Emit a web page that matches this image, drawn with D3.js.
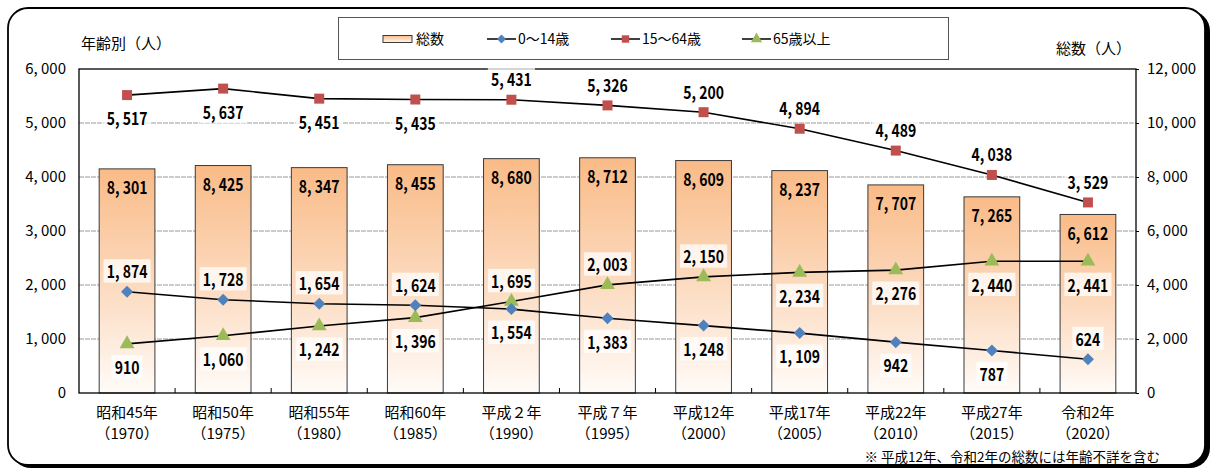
<!DOCTYPE html>
<html>
<head>
<meta charset="utf-8">
<script src="https://cdn.jsdelivr.net/npm/d3@7"></script>
<style>
  html, body { margin: 0; padding: 0; background: #fff; }
  svg { display: block; }
  text { font-family: "Noto Sans CJK JP", "Noto Sans", sans-serif; fill: #000; }
</style>
</head>
<body>
<svg id="chart" width="1214" height="470"></svg>
<script>
// Census years: era labels and Western year
const eraLabels = ["昭和45年", "昭和50年", "昭和55年", "昭和60年", "平成２年", "平成７年", "平成12年", "平成17年", "平成22年", "平成27年", "令和2年"];
const yearLabels = ["（1970）", "（1975）", "（1980）", "（1985）", "（1990）", "（1995）", "（2000）", "（2005）", "（2010）", "（2015）", "（2020）"];

// Population (people)
const total    = [8301, 8425, 8347, 8455, 8680, 8712, 8609, 8237, 7707, 7265, 6612];
const age0_14  = [1874, 1728, 1654, 1624, 1554, 1383, 1248, 1109, 942, 787, 624];
const age15_64 = [5517, 5637, 5451, 5435, 5431, 5326, 5200, 4894, 4489, 4038, 3529];
const age65    = [910, 1060, 1242, 1396, 1695, 2003, 2150, 2234, 2276, 2440, 2441];

// Which side of each point its value label sits on
const side0_14  = ["up", "up", "up", "up", "down", "down", "down", "down", "down", "down", "up"];
const side15_64 = ["down", "down", "down", "down", "up", "up", "up", "up", "up", "up", "up"];
const side65    = ["down", "down", "down", "down", "up", "up", "up", "down", "down", "down", "down"];

// Axis ticks
const leftTicks  = [0, 1000, 2000, 3000, 4000, 5000, 6000];
const rightTicks = [0, 2000, 4000, 6000, 8000, 10000, 12000];

const svg = d3.select("#chart");
const defs = svg.append("defs");

const fmt = v => d3.format(",")(v).replace(/,/g, ", ");

// Outer rounded frame with a drop shadow on the lower right
svg.append("rect").attr("x", 11).attr("y", 11).attr("width", 1199).attr("height", 457)
  .attr("rx", 20).attr("fill", "#000");
svg.append("rect").attr("x", 8).attr("y", 8).attr("width", 1197).attr("height", 457)
  .attr("rx", 20).attr("fill", "#fff").attr("stroke", "#000").attr("stroke-width", 1.8);

const plot = { left: 79, right: 1136, top: 69, bottom: 393 };

const x = d3.scaleBand().domain(eraLabels).range([plot.left, plot.right]).paddingInner(0.42).paddingOuter(0.21);
const xc = d => x(d) + x.bandwidth() / 2;
const yL = d3.scaleLinear().domain([0, 6000]).range([plot.bottom, plot.top]);
const yR = d3.scaleLinear().domain([0, 12000]).range([plot.bottom, plot.top]);

// Bar gradient
const grad = defs.append("linearGradient").attr("id", "barGrad")
  .attr("x1", 0).attr("y1", 0).attr("x2", 0).attr("y2", 1);
grad.append("stop").attr("offset", "0%").attr("stop-color", "#f9bb87");
grad.append("stop").attr("offset", "55%").attr("stop-color", "#fcdcc2");
grad.append("stop").attr("offset", "100%").attr("stop-color", "#fffbf8");

// Horizontal gridlines
svg.append("g")
  .selectAll("line").data(leftTicks.filter(t => t > 0 && t < 6000)).join("line")
  .attr("x1", plot.left).attr("x2", plot.right)
  .attr("y1", d => yL(d)).attr("y2", d => yL(d))
  .attr("stroke", "#9a9a9a").attr("stroke-width", 1).attr("stroke-dasharray", "5,1");

// Bars: total population on the right axis
svg.append("g").selectAll("rect").data(total).join("rect")
  .attr("x", (d, i) => x(eraLabels[i]))
  .attr("width", x.bandwidth())
  .attr("y", d => yR(d))
  .attr("height", d => plot.bottom - yR(d))
  .attr("fill", "url(#barGrad)")
  .attr("stroke", "#3a3a3a").attr("stroke-width", 1);

// Plot frame
svg.append("rect").attr("x", plot.left).attr("y", plot.top)
  .attr("width", plot.right - plot.left).attr("height", plot.bottom - plot.top)
  .attr("fill", "none").attr("stroke", "#000").attr("stroke-width", 1.3);

// Left axis
const leftAxis = d3.axisLeft(yL).tickValues(leftTicks).tickSize(0).tickPadding(13).tickFormat(fmt);
const gL = svg.append("g").attr("transform", `translate(${plot.left},0)`).call(leftAxis);
gL.select(".domain").remove();
gL.selectAll("text").style("font-size", "15px").style("font-family", "\"Noto Sans CJK JP\"");

// Right axis
const rightAxis = d3.axisRight(yR).tickValues(rightTicks).tickSize(3).tickPadding(8).tickFormat(fmt);
const gR = svg.append("g").attr("transform", `translate(${plot.right},0)`).call(rightAxis);
gR.select(".domain").remove();
gR.selectAll("line").attr("stroke", "#000");
gR.selectAll("text").style("font-size", "15px").style("font-family", "\"Noto Sans CJK JP\"");

// Bottom axis: inward ticks between categories, two-line labels
const boundaries = d3.range(1, eraLabels.length).map(i => x(eraLabels[i]) - x.step() * x.paddingInner() / 2);
svg.append("g").selectAll("line").data(boundaries).join("line")
  .attr("x1", d => d).attr("x2", d => d)
  .attr("y1", plot.bottom).attr("y2", plot.bottom - 5)
  .attr("stroke", "#000").attr("stroke-width", 1);

const xAxis = d3.axisBottom(x).tickSize(0).tickPadding(0).tickFormat("");
const gX = svg.append("g").attr("transform", `translate(0,${plot.bottom})`).call(xAxis);
gX.select(".domain").remove();
const xl = svg.append("g");
eraLabels.forEach((e, i) => {
  const t = xl.append("text").attr("x", xc(e)).attr("text-anchor", "middle").style("font-size", "15px");
  t.append("tspan").attr("x", xc(e)).attr("y", 418).text(e);
  t.append("tspan").attr("x", xc(e)).attr("y", 439).text(yearLabels[i]);
});

// Axis titles and note
svg.append("text").attr("x", 81).attr("y", 49).style("font-size", "15px").text("年齢別（人）");
svg.append("text").attr("x", 1131).attr("y", 54).attr("text-anchor", "end").style("font-size", "15px").text("総数（人）");
svg.append("text").attr("x", 1160).attr("y", 462).attr("text-anchor", "end").style("font-size", "13.5px")
  .text("※ 平成12年、令和2年の総数には年齢不詳を含む");

// Value label helper: bold, slightly condensed digits
function valueLabel(g, cx, cy, v, bg) {
  const grp = g.append("g").attr("transform", `translate(${cx},${cy}) scale(0.8,1)`);
  const t = grp.append("text").attr("text-anchor", "middle").attr("dy", "0.36em")
    .style("font-size", "17.5px").style("font-weight", "bold")
    .style("font-family", "\"Noto Sans CJK JP\"").text(fmt(v));
  if (bg) {
    const b = t.node().getBBox();
    grp.insert("rect", "text").attr("x", b.x - 4).attr("y", b.y + 1).attr("width", b.width + 8).attr("height", b.height - 2)
      .attr("fill", "#fff").attr("opacity", 0.75);
  }
}

// Bar value labels
const barLabels = svg.append("g");
total.forEach((v, i) => valueLabel(barLabels, xc(eraLabels[i]), yR(v) + 19, v, false));

// Marker shapes: the diamond is a square turned 45 degrees
const markerPath = (shape, size) => d3.symbol().type(shape === "diamond" ? d3.symbolSquare : shape).size(size)();
const markerRot = shape => shape === "diamond" ? " rotate(45)" : "";

// Line series
const lineGen = d3.line().x((d, i) => xc(eraLabels[i])).y(d => yL(d));
const series = [
  { data: age65, side: side65, color: "#9bbb59", shape: d3.symbolTriangle, size: 95 },
  { data: age0_14, side: side0_14, color: "#4f81bd", shape: "diamond", size: 72 },
  { data: age15_64, side: side15_64, color: "#c0504d", shape: d3.symbolSquare, size: 100 }
];
series.forEach(s => {
  svg.append("path").datum(s.data).attr("d", lineGen)
    .attr("fill", "none").attr("stroke", "#000").attr("stroke-width", 1.6);
});
series.forEach(s => {
  svg.append("g").selectAll("path").data(s.data).join("path")
    .attr("transform", (d, i) => `translate(${xc(eraLabels[i])},${yL(d)})${markerRot(s.shape)}`)
    .attr("d", markerPath(s.shape, s.size))
    .attr("fill", s.color);
});
const lineLabels = svg.append("g");
series.forEach(s => {
  s.data.forEach((v, i) => {
    const dy = s.side[i] === "up" ? -20 : 24;
    valueLabel(lineLabels, xc(eraLabels[i]), yL(v) + dy, v, true);
  });
});

// Legend
const lg = svg.append("g");
lg.append("rect").attr("x", 338.5).attr("y", 17.5).attr("width", 610).attr("height", 42)
  .attr("fill", "#fff").attr("stroke", "#555").attr("stroke-width", 1);
const ly = 39;
lg.append("rect").attr("x", 383).attr("y", ly - 3.5).attr("width", 29).attr("height", 7)
  .attr("fill", "url(#barGrad)").attr("stroke", "#3a3a3a").attr("stroke-width", 1);
lg.append("text").attr("x", 416).attr("y", ly + 5).style("font-size", "14px").text("総数");
const legendItems = [
  { x0: 487, label: "0～14歳", color: "#4f81bd", shape: "diamond", size: 40 },
  { x0: 611, label: "15～64歳", color: "#c0504d", shape: d3.symbolSquare, size: 55 },
  { x0: 742, label: "65歳以上", color: "#9bbb59", shape: d3.symbolTriangle, size: 55 }
];
legendItems.forEach(it => {
  lg.append("line").attr("x1", it.x0).attr("x2", it.x0 + 29).attr("y1", ly).attr("y2", ly)
    .attr("stroke", "#000").attr("stroke-width", 1.5);
  lg.append("path").attr("transform", `translate(${it.x0 + 14.5},${ly})${markerRot(it.shape)}`)
    .attr("d", markerPath(it.shape, it.size)).attr("fill", it.color);
  lg.append("text").attr("x", it.x0 + 31).attr("y", ly + 5).style("font-size", "14px").text(it.label);
});
</script>
</body>
</html>
